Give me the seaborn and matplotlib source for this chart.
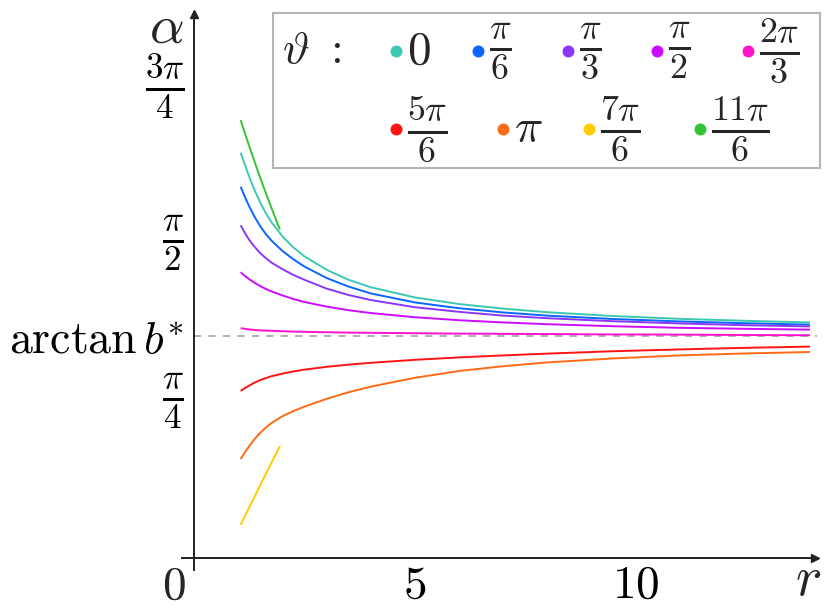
import numpy as np
import pandas as pd
import seaborn as sns
import matplotlib.pyplot as plt
from matplotlib.patches import Rectangle

# values
r_long = [1.05, 1.15, 1.25, 1.375, 1.5, 1.625, 1.75, 2.0, 2.25, 2.5, 3.0, 3.5,
          4.0, 5.0, 6.0, 7.0, 8.0, 9.5, 11.0, 12.5, 13.95]
r_short = [1.05, 1.15, 1.25, 1.375, 1.5, 1.625, 1.75, 1.875, 1.94]

alpha_0 = [2.026, 1.964, 1.903, 1.834, 1.774, 1.722, 1.678, 1.607, 1.551, 1.507, 1.440,
           1.390, 1.353, 1.302, 1.269, 1.246, 1.228, 1.209, 1.195, 1.185, 1.177]
alpha_pi6 = [1.856, 1.803, 1.755, 1.702, 1.656, 1.618, 1.586, 1.534, 1.492, 1.456, 1.399,
             1.356, 1.322, 1.277, 1.248, 1.227, 1.211, 1.194, 1.182, 1.173, 1.166]
alpha_pi3 = [1.663, 1.623, 1.588, 1.553, 1.522, 1.498, 1.476, 1.443, 1.414, 1.390, 1.346,
             1.314, 1.289, 1.253, 1.230, 1.211, 1.198, 1.183, 1.172, 1.163, 1.157]
alpha_pi2 = [1.428, 1.409, 1.392, 1.374, 1.358, 1.344, 1.332, 1.312, 1.294, 1.279, 1.256,
             1.238, 1.224, 1.203, 1.188, 1.177, 1.168, 1.158, 1.150, 1.145, 1.141]
alpha_2pi3 = [1.148, 1.145, 1.142, 1.139, 1.137, 1.136, 1.135, 1.133, 1.131, 1.130, 1.128,
              1.126, 1.125, 1.123, 1.121, 1.120, 1.119, 1.117, 1.116, 1.114, 1.113]
alpha_5pi6 = [0.834, 0.849, 0.862, 0.877, 0.889, 0.899, 0.908, 0.921, 0.932, 0.941, 0.955,
              0.966, 0.975, 0.990, 1.002, 1.012, 1.021, 1.033, 1.042, 1.050, 1.056]
alpha_pi = [0.494, 0.528, 0.560, 0.596, 0.626, 0.652, 0.674, 0.708, 0.734, 0.756, 0.795,
            0.828, 0.856, 0.900, 0.934, 0.958, 0.977, 0.997, 1.012, 1.022, 1.029]
alpha_7pi6 = [0.164, 0.209, 0.254, 0.310, 0.366, 0.421, 0.476, 0.530, 0.558]
alpha_11pi6 = [2.189, 2.121, 2.055, 1.975, 1.897, 1.822, 1.749, 1.678, 1.642]

theta_labels = [r'$0$', r'$\frac{\pi}{6}$', r'$\frac{\pi}{3}$', r'$\frac{\pi}{2}$',
                r'$\frac{2\pi}{3}$', r'$\frac{5\pi}{6}$', r'$\pi$',
                r'$\frac{7\pi}{6}$', r'$\frac{11\pi}{6}$']
theta_colors = ['#3cc9b2', '#0a66ff', '#8a38f5', '#cc0cff', '#ff12cc',
                '#ff1414', '#ff6a14', '#ffcc00', '#33c433']

b_star = 2.0
ytick_vals = [np.pi / 4, np.pi / 2, 3 * np.pi / 4]
ytick_labels = [r'$\frac{\pi}{4}$', r'$\frac{\pi}{2}$', r'$\frac{3\pi}{4}$']
xtick_vals = [5, 10]
xtick_labels = [r'$5$', r'$10$']

series = [(r_long, alpha_0), (r_long, alpha_pi6), (r_long, alpha_pi3), (r_long, alpha_pi2),
          (r_long, alpha_2pi3), (r_long, alpha_5pi6), (r_long, alpha_pi),
          (r_short, alpha_7pi6), (r_short, alpha_11pi6)]
df = pd.concat([pd.DataFrame({'r': rr, 'alpha': aa, 'theta': lab})
                for (rr, aa), lab in zip(series, theta_labels)], ignore_index=True)

sns.set_theme(style='white')
plt.rcParams['mathtext.fontset'] = 'cm'
plt.rcParams['font.family'] = ['DejaVu Serif']
plt.rcParams['lines.solid_capstyle'] = 'butt'

W, H = 830, 610
fig = plt.figure(figsize=(W / 100, H / 100), dpi=100)
ax = fig.add_axes([0, 0, 1, 1])
ax.set_xlim(-4.403, 14.405)
ax.set_ylim(-0.2616, 2.790)

ink = '#222222'

# asymptote
ax.hlines(np.arctan(b_star), 0, 14.1, colors='#aaaaaa', linestyles=(0, (4, 4)), lw=1.3, zorder=1)

sns.lineplot(data=df, x='r', y='alpha', hue='theta', hue_order=theta_labels,
             palette=theta_colors, estimator=None, sort=False, legend=False,
             lw=1.4, ax=ax, zorder=2)
ax.set_xlabel('')
ax.set_ylabel('')

# arrow axes through the origin
for s in ['top', 'right']:
    ax.spines[s].set_visible(False)
ax.spines['left'].set_position(('data', 0))
ax.spines['bottom'].set_position(('data', 0))
ax.spines['bottom'].set_bounds(-0.29, 14.07)
ax.spines['left'].set_bounds(-0.06, 2.721)
for s in ['left', 'bottom']:
    ax.spines[s].set_linewidth(1.4)
    ax.spines[s].set_color(ink)
ax.plot([14.07], [0], marker='>', ms=5.6, color=ink, clip_on=False)
ax.plot([0], [2.721], marker='^', ms=5.6, color=ink, clip_on=False)

ax.set_xticks(xtick_vals, labels=xtick_labels)
ax.set_yticks(ytick_vals + [np.arctan(b_star)],
              labels=ytick_labels + [r'$\arctan b^{*}$'])
ax.tick_params(axis='x', direction='inout', length=6.5, width=1, color=ink,
               labelsize=34, pad=0, labelcolor='black')
ax.tick_params(axis='y', direction='inout', length=6.5, width=1, color=ink,
               labelsize=36, pad=4, labelcolor='black')
ax.yaxis.get_major_ticks()[3].tick1line.set_visible(False)
ylabs = ax.get_yticklabels()
for lbl in ylabs[:3]:
    lbl.set_verticalalignment('center')
ylabs[3].set_fontsize(33)

ax.text(-0.46, -0.142, r'$0$', ha='center', va='center', fontsize=34)
ax.text(-0.25, 2.578, r'$\alpha$', ha='right', va='baseline', fontsize=39)
ax.text(14.2, -0.187, r'$r$', ha='right', va='baseline', fontsize=40)

# legend drawn by hand to keep the staggered second row
def fx(x):
    return x / W


def fy(y):
    return 1 - y / H


ax.add_patch(Rectangle((fx(272.7), fy(168.3)), fx(820) - fx(272.7), fy(12.7) - fy(168.3),
                       transform=fig.transFigure, facecolor='white', edgecolor='#b5b5b5',
                       lw=1.5, zorder=5))
ax.text(fx(282), fy(50), r'$\vartheta\ :$', transform=fig.transFigure,
        ha='left', va='center', fontsize=33, zorder=6)
dot_x = [396, 478, 568, 657, 748, 396, 503, 589, 700]
dot_y = [51, 51, 51, 51, 51, 129, 129, 129, 129]
for lab, col, x, y in zip(theta_labels, theta_colors, dot_x, dot_y):
    ax.plot([fx(x)], [fy(y)], marker='o', ms=8.6, color=col, mec='none',
            transform=fig.transFigure, clip_on=False, zorder=6)
    size = 37 if 'frac' in lab else 34
    ax.text(fx(x + 11), fy(y), lab, transform=fig.transFigure,
            ha='left', va='center', fontsize=size, zorder=6)

fig.savefig('out.png', dpi=100)
